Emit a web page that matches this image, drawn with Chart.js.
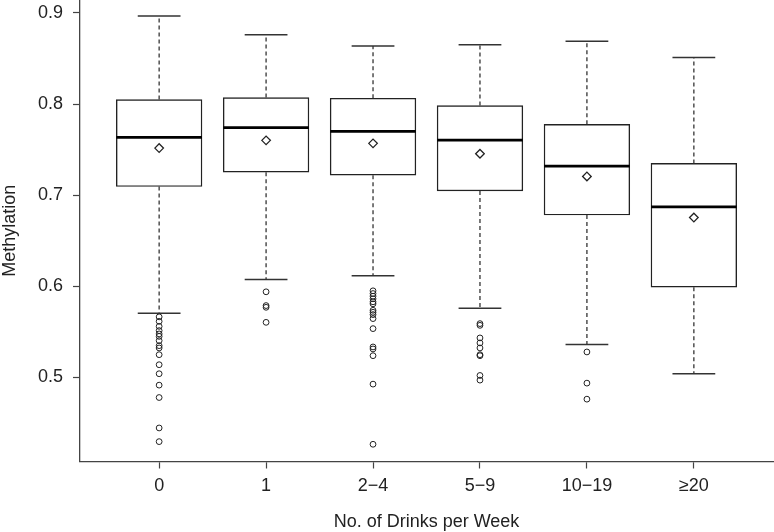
<!DOCTYPE html>
<html>
<head>
<meta charset="utf-8">
<script src="https://cdn.jsdelivr.net/npm/chart.js@4/dist/chart.umd.min.js"></script>
<style>
  html, body { margin: 0; padding: 0; background: #fff; }
  #wrap { width: 774px; height: 532px; position: relative; }
</style>
</head>
<body>
<div id="wrap"><canvas id="c"></canvas></div>
<script>
const categories = ["0", "1", "2\u22124", "5\u22129", "10\u221219", "\u226520"];
const whiskerHigh = [0.8967, 0.8761, 0.8637, 0.8651, 0.8688, 0.8511];
const q3          = [0.8049, 0.8071, 0.8064, 0.7983, 0.7778, 0.7349];
const medians     = [0.7635, 0.7741, 0.7701, 0.7605, 0.7319, 0.6871];
const means       = [0.7517, 0.7602, 0.7569, 0.7455, 0.7206, 0.6755];
const q1          = [0.7096, 0.7253, 0.7220, 0.7047, 0.6783, 0.5991];
const whiskerLow  = [0.5705, 0.6075, 0.6116, 0.5760, 0.5363, 0.5041];
const outliers = [
  [0.5665, 0.5616, 0.5561, 0.5514, 0.5478, 0.5451, 0.5404, 0.5349, 0.5324, 0.5250, 0.5140, 0.5041, 0.4916, 0.4780, 0.4446, 0.4296],
  [0.5940, 0.5789, 0.5770, 0.5605],
  [0.5951, 0.5921, 0.5892, 0.5863, 0.5830, 0.5808, 0.5737, 0.5715, 0.5690, 0.5646, 0.5536, 0.5335, 0.5313, 0.5239, 0.4927, 0.4267],
  [0.5591, 0.5572, 0.5434, 0.5379, 0.5324, 0.5250, 0.5239, 0.5022, 0.4971],
  [0.5280, 0.4938, 0.4762],
  []
];
const yTicks = [0.5, 0.6, 0.7, 0.8, 0.9];
const yMin = 0.4078, yMax = 0.9142;
const xMin = 0.26, xMax = 6.74;
const BOX_HALF = 0.4, CAP_HALF = 0.2;

// bubble controller that does not ask for extra outer padding for its markers
class MarkerController extends Chart.BubbleController {
  getMaxOverflow() { return 0; }
}
MarkerController.id = 'marker';
MarkerController.defaults = Chart.BubbleController.defaults;
MarkerController.overrides = Chart.BubbleController.overrides;
Chart.register(MarkerController);

const pos = categories.map((c, i) => i + 1);
const boxData = pos.map((x, i) => ({ x: x, y: [q1[i], q3[i]] }));
const whiskerData = [];
pos.forEach((x, i) => {
  whiskerData.push({ x: x, y: q3[i] }, { x: x, y: whiskerHigh[i] }, { x: x, y: null });
  whiskerData.push({ x: x, y: q1[i] }, { x: x, y: whiskerLow[i] }, { x: x, y: null });
});
const capData = [];
pos.forEach((x, i) => {
  [whiskerHigh[i], whiskerLow[i]].forEach(v => {
    capData.push({ x: x - CAP_HALF, y: v }, { x: x + CAP_HALF, y: v }, { x: x, y: null });
  });
});
const medianData = [];
pos.forEach((x, i) => {
  medianData.push({ x: x - BOX_HALF, y: medians[i] }, { x: x + BOX_HALF, y: medians[i] }, { x: x, y: null });
});
const meanData = pos.map((x, i) => ({ x: x, y: means[i] }));
const outlierData = [];
pos.forEach((x, i) => outliers[i].forEach(v => outlierData.push({ x: x, y: v })));

const FONT = "'Liberation Sans', Arial, Helvetica, sans-serif";
const INK = '#222';

new Chart(document.getElementById('c'), {
  type: 'bar',
  data: {
    datasets: [
      { type: 'bar', data: boxData, backgroundColor: '#fff', borderColor: INK, borderWidth: 1.4,
        borderSkipped: false, barThickness: 85.7, order: 5 },
      { type: 'line', data: whiskerData, borderColor: '#333', borderWidth: 1.3, borderDash: [4, 3],
        pointRadius: 0, pointBorderWidth: 0, spanGaps: false, fill: false, order: 4 },
      { type: 'line', data: capData, borderColor: '#333', borderWidth: 1.5,
        pointRadius: 0, pointBorderWidth: 0, spanGaps: false, fill: false, order: 3 },
      { type: 'line', data: medianData, borderColor: '#000', borderWidth: 2.8, borderCapStyle: 'butt',
        pointRadius: 0, pointBorderWidth: 0, spanGaps: false, fill: false, order: 2 },
      { type: 'marker', data: meanData, pointStyle: 'rectRot', radius: 4.3, hoverRadius: 0,
        borderColor: INK, backgroundColor: '#fff', borderWidth: 1.3, order: 1 },
      { type: 'marker', data: outlierData, pointStyle: 'circle', radius: 2.9, hoverRadius: 0,
        borderColor: INK, backgroundColor: 'rgba(0,0,0,0)', borderWidth: 1, order: 1 }
    ]
  },
  options: {
    responsive: true,
    maintainAspectRatio: false,
    animation: false,
    events: [],
    layout: { padding: { top: 0, right: 1, bottom: 0, left: 0 } },
    plugins: { legend: { display: false }, tooltip: { enabled: false } },
    scales: {
      x: {
        type: 'linear',
        min: xMin, max: xMax,
        offset: false,
        afterBuildTicks: s => { s.ticks = pos.map(v => ({ value: v })); },
        afterFit: s => { s.height = 70.5; s.paddingLeft = 0; s.paddingRight = 0; },
        grid: { display: true, offset: false, drawOnChartArea: false, drawTicks: true, tickLength: 7, color: '#444', tickWidth: 1.2 },
        border: { display: true, color: '#444', width: 1.3 },
        ticks: {
          autoSkip: false, maxRotation: 0, padding: 7, color: INK,
          font: { family: FONT, size: 18 },
          callback: v => categories[Math.round(v) - 1]
        },
        title: { display: true, text: 'No. of Drinks per Week', color: INK,
          font: { family: FONT, size: 18, lineHeight: 1.1 }, padding: { top: 0, bottom: 0 } }
      },
      y: {
        type: 'linear',
        min: yMin, max: yMax,
        afterBuildTicks: s => { s.ticks = yTicks.map(v => ({ value: v })); },
        afterFit: s => { s.width = 80; s.paddingTop = 0; s.paddingBottom = 0; },
        grid: { display: true, drawOnChartArea: false, drawTicks: true, tickLength: 7, color: '#444', tickWidth: 1.2 },
        border: { display: true, color: '#444', width: 1.3 },
        ticks: {
          padding: 10, color: INK,
          font: { family: FONT, size: 18 },
          callback: v => v.toFixed(1)
        },
        title: { display: true, text: 'Methylation', color: INK,
          font: { family: FONT, size: 18, lineHeight: 1.1 }, padding: { top: 0, bottom: 0 } }
      }
    }
  }
});
</script>
</body>
</html>
